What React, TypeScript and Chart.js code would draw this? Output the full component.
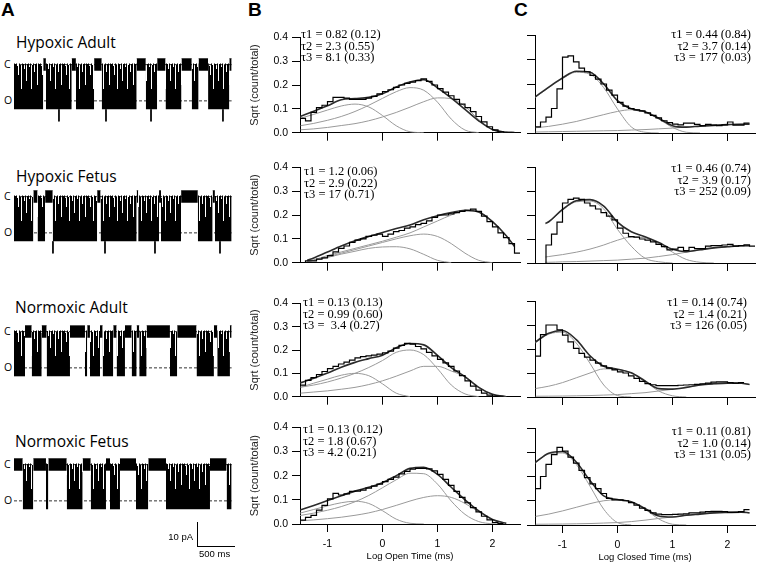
import React, { useEffect, useRef } from 'react';
import { Chart, registerables } from 'chart.js';
Chart.register(...registerables);

// ---------------- histogram data (log10 time, ms) ----------------
const BIN_CENTERS = [-1.45, -1.35, -1.25, -1.15, -1.05, -0.95, -0.85, -0.75, -0.65, -0.55, -0.45, -0.35, -0.25, -0.15, -0.05, 0.05, 0.15, 0.25, 0.35, 0.45, 0.55, 0.65, 0.75, 0.85, 0.95, 1.05, 1.15, 1.25, 1.35, 1.45, 1.55, 1.65, 1.75, 1.85, 1.95, 2.05, 2.15, 2.25, 2.35, 2.45];
const BIN_WIDTH = 0.1;
const FIT_X = [-1.5, -1.25, -1, -0.75, -0.5, -0.25, 0, 0.25, 0.5, 0.75, 1, 1.25, 1.5, 1.75, 2, 2.25, 2.4];
const FIT_X_B2 = [-1.37, -1.25, -1, -0.75, -0.5, -0.25, 0, 0.25, 0.5, 0.75, 1, 1.25, 1.5, 1.75, 2, 2.25, 2.4];
const FIT_X_C2 = [-1.31, -1.25, -1, -0.75, -0.5, -0.25, 0, 0.25, 0.5, 0.75, 1, 1.25, 1.5, 1.75, 2, 2.25, 2.4];
const X_TICKS = [-1, 0, 1, 2];
const Y_TICKS = [0, 0.1, 0.2, 0.3, 0.4];
const N = null;

// Hypoxic Adult
const B1_HIST = [.06, .05, .085, .105, .115, .13, .148, .148, .145, .14, .14, .14, .145, .152, .163, .172, .18, .19, .2, .207, .212, .218, .226, .215, .2, .185, .17, .155, .14, .12, .105, .088, .068, .045, .025, .012, .004, .001, .001, N];
const B1_C1 = [.06, .077, .095, .112, .12, .108, .072, .029, .004, 0, N, N, N, N, N, N, N];
const B1_C2 = [.029, .039, .052, .068, .089, .115, .144, .172, .189, .178, .128, .057, .011, 0, N, N, N];
const B1_C3 = [.012, .016, .022, .03, .038, .05, .066, .085, .107, .13, .146, .143, .11, .055, .013, 0, N];
const B1_FIT = [.068, .09, .113, .138, .143, .148, .163, .192, .213, .222, .188, .145, .098, .05, .013, .002, 0];
const C1_HIST = [.025, .045, .065, .1, .18, .31, .315, .29, .265, .25, .235, .22, .2, .175, .155, .125, .11, .1, .095, .09, .082, .072, .062, .05, .042, .036, .033, .04, .04, .035, .03, .035, .032, .03, .033, .045, .032, .032, .04, N];
const C1_C1 = [.145, .185, .222, .248, .24, .185, .098, .025, .003, 0, N, N, N, N, N, N, N];
const C1_C2 = [.021, .027, .036, .047, .061, .075, .088, .095, .086, .057, .023, .003, 0, N, N, N, N];
const C1_C3 = [.004, .005, .006, .007, .008, .009, .01, .012, .014, .017, .02, .024, .028, .031, .034, .036, .036];
const C1_FIT = [.147, .187, .225, .252, .248, .2, .132, .099, .087, .06, .03, .024, .028, .031, .034, .036, .036];

// Hypoxic Fetus
const B2_HIST = [N, .008, .008, .015, .02, .03, .045, .06, .07, .085, .095, .1, .11, .115, .12, .11, .12, .13, .135, .145, .15, .16, .165, .175, .19, .2, .2, .205, .21, .215, .22, .225, .215, .195, .172, .15, .125, .105, .08, .04];
const B2_C1 = [.005, .01, .022, .036, .048, .06, .066, .067, .058, .035, .01, 0, N, N, N, N, N];
const B2_C2 = [.005, .01, .025, .04, .055, .07, .085, .1, .113, .12, .11, .08, .04, .01, 0, N, N];
const B2_C3 = [.006, .012, .03, .045, .06, .075, .09, .107, .125, .15, .175, .2, .217, .212, .172, .113, .068];
const B2_FIT = [.01, .02, .045, .07, .092, .11, .127, .143, .158, .18, .197, .21, .22, .213, .172, .113, .068];
const C2_HIST = [N, N, .075, .12, .17, .25, .265, .27, .265, .25, .238, .225, .21, .195, .18, .145, .124, .11, .108, .1, .095, .088, .078, .068, .055, .058, .065, .052, .065, .06, .06, .07, .072, .072, .075, .078, .07, .072, .076, .07];
const C2_C1 = [.163, .17, .22, .255, .258, .225, .14, .07, .02, .005, 0, N, N, N, N, N, N];
const C2_C2 = [.025, .027, .035, .045, .058, .075, .095, .108, .105, .08, .045, .015, .003, 0, N, N, N];
const C2_C3 = [.003, .003, .005, .006, .008, .01, .012, .016, .02, .027, .035, .045, .055, .063, .068, .072, .072];
const C2_FIT = [.165, .172, .223, .259, .264, .237, .17, .13, .109, .085, .057, .047, .055, .063, .068, .072, .072];

// Normoxic Adult
const B3_HIST = [.05, .07, .082, .095, .108, .12, .13, .14, .148, .157, .166, .172, .175, .178, .182, .188, .195, .208, .22, .228, .225, .215, .205, .19, .175, .16, .145, .13, .11, .09, .068, .045, .028, .015, .007, .003, .002, N, N, N];
const B3_C1 = [.04, .058, .075, .092, .1, .09, .055, .015, 0, N, N, N, N, N, N, N, N];
const B3_C2 = [.04, .05, .063, .08, .1, .125, .155, .19, .2, .18, .12, .05, .012, 0, N, N, N];
const B3_C3 = [.015, .02, .025, .032, .04, .052, .068, .088, .11, .13, .13, .11, .085, .04, .01, 0, N];
const B3_FIT = [.059, .079, .101, .126, .147, .163, .178, .21, .228, .222, .177, .125, .086, .04, .01, 0, N];
const C3_HIST = [.17, .26, .3, .3, .28, .258, .23, .203, .182, .166, .154, .141, .13, .12, .113, .105, .1, .088, .078, .065, .056, .051, .047, .047, .047, .047, .049, .05, .051, .053, .055, .058, .062, .063, .063, .06, .058, .06, N, N];
const C3_C1 = [.225, .262, .27, .225, .14, .05, .006, 0, N, N, N, N, N, N, N, N, N];
const C3_C2 = [.035, .045, .06, .08, .1, .117, .115, .1, .065, .025, .005, 0, N, N, N, N, N];
const C3_C3 = [.003, .0035, .004, .005, .006, .008, .01, .014, .018, .025, .032, .04, .05, .055, .058, .057, .052];
const C3_FIT = [.228, .266, .277, .239, .172, .128, .116, .101, .067, .035, .033, .04, .05, .055, .058, .057, .052];

// Normoxic Fetus
const B4_HIST = [.016, .027, .036, .057, .077, .104, .127, .12, .125, .135, .136, .14, .148, .157, .165, .175, .185, .194, .207, .218, .227, .23, .23, .228, .22, .205, .185, .16, .135, .11, .088, .068, .05, .032, .017, .006, .002, N, N, N];
const B4_C1 = [.045, .06, .075, .088, .094, .085, .055, .02, .003, 0, N, N, N, N, N, N, N];
const B4_C2 = [.035, .045, .057, .072, .092, .118, .15, .183, .21, .208, .165, .095, .04, .01, 0, N, N];
const B4_C3 = [.013, .017, .022, .028, .036, .046, .06, .077, .095, .11, .117, .11, .085, .05, .018, .003, N];
const B4_FIT = [.058, .077, .097, .117, .136, .152, .171, .2, .23, .235, .205, .152, .1, .054, .019, .003, N];
const C4_HIST = [.15, .2, .25, .29, .32, .305, .28, .255, .225, .195, .17, .15, .13, .11, .104, .104, .1, .092, .082, .07, .06, .05, .045, .043, .043, .044, .045, .046, .05, .05, .053, .055, .056, .056, .055, .052, .052, .055, .063, N];
const C4_C1 = [.255, .293, .297, .25, .16, .065, .01, 0, N, N, N, N, N, N, N, N, N];
const C4_C2 = [.035, .045, .058, .073, .088, .1, .104, .095, .065, .025, .003, 0, N, N, N, N, N];
const C4_C3 = [.003, .0035, .004, .005, .006, .008, .01, .014, .02, .027, .033, .04, .045, .05, .052, .053, .05];
const C4_FIT = [.257, .296, .303, .26, .183, .12, .105, .096, .068, .037, .033, .04, .045, .05, .052, .053, .05];

// fit parameters text
const B1_TAU = ['τ1 = 0.82 (0.12)', 'τ2 = 2.3 (0.55)', 'τ3 = 8.1 (0.33)'];
const C1_TAU = ['τ1 = 0.44 (0.84)', 'τ2 = 3.7 (0.14)', 'τ3 = 177 (0.03)'];
const B2_TAU = ['τ1 = 1.2 (0.06)', 'τ2 = 2.9 (0.22)', 'τ3 = 17 (0.71)'];
const C2_TAU = ['τ1 = 0.46 (0.74)', 'τ2 = 3.9 (0.17)', 'τ3 = 252 (0.09)'];
const B3_TAU = ['τ1 = 0.13 (0.13)', 'τ2 = 0.99 (0.60)', 'τ3 =  3.4 (0.27)'];
const C3_TAU = ['τ1 = 0.14 (0.74)', 'τ2 = 1.4 (0.21)', 'τ3 = 126 (0.05)'];
const B4_TAU = ['τ1 = 0.13 (0.12)', 'τ2 = 1.8 (0.67)', 'τ3 = 4.2 (0.21)'];
const C4_TAU = ['τ1 = 0.11 (0.81)', 'τ2 = 1.0 (0.14)', 'τ3 = 131 (0.05)'];

// ---------------- single-channel traces (ms, pA) ----------------
const TRACE_SPAN = 2870;
const LEVEL_C = 0;
const LEVEL_O = -15;
const HA_BURSTS = [[0, 385], [420, 760], [815, 1055], [1155, 1615], [1735, 1885], [1995, 2205], [2340, 2430], [2555, 2835]];
const HA_SPIKES = [592, 1211, 1804, 2751];
const HF_BURSTS = [[0, 255], [310, 410], [510, 1095], [1140, 1615], [1635, 1910], [1935, 2200], [2420, 2615], [2645, 2865]];
const HF_SPIKES = [513, 1198, 1856, 2712];
const NA_BURSTS = [[0, 145], [233, 365], [430, 737], [934, 964], [1000, 1132], [1167, 1307], [1351, 1461], [1549, 1615], [1649, 1746], [2053, 2149], [2403, 2632], [2676, 2843]];
const NA_SPIKES: number[] = [];
const NF_BURSTS = [[115, 254], [421, 452], [694, 904], [1010, 1211], [1264, 1395], [1606, 1768], [2001, 2580], [2799, 2865]];
const NF_SPIKES: number[] = [];
const TRACE_END = 2865;

// ---------------- styling ----------------
const SANS = '"Liberation Sans", Arial, sans-serif';
const SERIF = '"Liberation Serif", "Times New Roman", serif';
const TITLE_SANS = '"Open Sans", "Noto Sans", sans-serif';
const CLOSED_NOISE = 2.5;
const BURST_CEIL = 0.5;
const BURST_FLOOR = -18.5;
const SPIKE_FLOOR = -23.5;
const TRACE_Y_MIN = -25;
const TRACE_Y_MAX = 4;
const TRACE_H = 70;
// stripe texture of the fast flickering inside bursts (top pixel of each 1-px column)
const FLICKER_TOPS = [8, 9, 8, 11, 20, 8, 10, 40, 8, 9, 14, 8, 26, 9, 8, 12, 8, 40, 10, 8, 17, 9, 8, 30];
const FLICKER_SOLID = 34;

function histConfig(p: any) {
  const histPts: any[] = [];
  let last: any = null;
  BIN_CENTERS.forEach((c, i) => {
    const v = p.hist[i];
    if (v == null) return;
    const edge = c - BIN_WIDTH / 2;
    if (!last) histPts.push({ x: edge, y: 0 });
    histPts.push({ x: edge, y: v });
    last = { c, v };
  });
  if (last) histPts.push({ x: last.c + BIN_WIDTH / 2, y: last.v });
  const fitPts = (arr: any[]) => p.fitX.map((x: number, i: number) => ({ x, y: arr[i] })).filter((q: any) => q.y != null);
  const fitDs = (arr: any[], color: string, w: number, order: number) => ({
    data: fitPts(arr), borderColor: color, borderWidth: w, pointRadius: 0, fill: false,
    cubicInterpolationMode: 'monotone', order,
  });
  const axisCommon = {
    border: { display: true, color: '#000', width: 1 },
    grid: { display: true, drawOnChartArea: false, drawTicks: true, tickLength: 8, color: '#000', lineWidth: 1 },
  };
  return {
    type: 'line',
    data: {
      datasets: [
        { data: histPts, stepped: true, borderColor: '#000', borderWidth: 1.2, pointRadius: 0, fill: false, order: 0 },
        fitDs(p.total, '#2b2b2b', 1.6, 1),
        fitDs(p.c1, '#9a9a9a', 1, 2),
        fitDs(p.c2, '#9a9a9a', 1, 3),
        fitDs(p.c3, '#9a9a9a', 1, 4),
      ],
    },
    options: {
      responsive: false, animation: false, events: [],
      layout: { padding: { top: 8, right: p.padRight, bottom: 0, left: 0 } },
      plugins: { legend: { display: false }, tooltip: { enabled: false } },
      scales: {
        x: {
          type: 'linear', min: -1.5, max: 2.5, ...axisCommon,
          afterBuildTicks: (s: any) => { s.ticks = X_TICKS.map((v) => ({ value: v })); },
          afterFit: (s: any) => { s.height = p.xAxisHeight; },
          ticks: { display: !!p.xTitle, color: '#000', padding: 6, maxRotation: 0, autoSkip: false, font: { family: SANS, size: 10.5 }, callback: (v: any) => String(v) },
          title: { display: !!p.xTitle, text: p.xTitle || '', color: '#000', font: { family: SANS, size: 9.5 }, padding: { top: 0, bottom: 0 } },
        },
        y: {
          type: 'linear', min: 0, max: 0.4, ...axisCommon,
          afterBuildTicks: (s: any) => { s.ticks = Y_TICKS.map((v) => ({ value: v })); },
          afterFit: (s: any) => { s.width = p.yAxisWidth; },
          ticks: { display: p.showY, color: '#000', padding: 4, font: { family: SANS, size: 10.5 }, callback: (v: any) => Number(v).toFixed(1) },
          title: { display: p.showY, text: 'Sqrt (count/total)', color: '#222', font: { family: SANS, size: 11 }, padding: { top: 8, bottom: 0 } },
        },
      },
    },
  };
}

function makeFlickerPattern(ctx: CanvasRenderingContext2D) {
  const tile = document.createElement('canvas');
  tile.width = FLICKER_TOPS.length;
  tile.height = TRACE_H;
  const g = tile.getContext('2d')!;
  g.fillStyle = '#000';
  FLICKER_TOPS.forEach((top, i) => g.fillRect(i, top, 1, TRACE_H - top));
  g.fillRect(0, FLICKER_SOLID, tile.width, TRACE_H - FLICKER_SOLID);
  return ctx.createPattern(tile, 'repeat');
}

function traceConfig(t: any, ctx: CanvasRenderingContext2D) {
  const closed: any[] = [];
  const burst: any[] = [];
  let prev = 0;
  t.bursts.forEach(([s, e]: number[]) => {
    if (s > prev) closed.push({ x: prev, y: LEVEL_C + CLOSED_NOISE }, { x: s, y: LEVEL_C + CLOSED_NOISE }, { x: s, y: null });
    burst.push({ x: s, y: LEVEL_C + BURST_CEIL }, { x: e, y: LEVEL_C + BURST_CEIL }, { x: e, y: null });
    prev = e;
  });
  if (prev < TRACE_END) closed.push({ x: prev, y: LEVEL_C + CLOSED_NOISE }, { x: TRACE_END, y: LEVEL_C + CLOSED_NOISE });
  const spikes: any[] = [];
  t.spikes.forEach((s: number) => spikes.push({ x: s, y: BURST_FLOOR }, { x: s, y: SPIKE_FLOOR }, { x: s, y: null }));
  const level = (y: number) => ({
    data: [{ x: 0, y }, { x: TRACE_END, y }], borderColor: '#333', borderDash: [3, 2], borderWidth: 1,
    pointRadius: 0, fill: false, order: 9,
  });
  return {
    type: 'line',
    data: {
      datasets: [
        { data: closed, fill: { value: LEVEL_C - CLOSED_NOISE }, backgroundColor: '#000', borderColor: '#000', borderWidth: 0.5, pointRadius: 0, spanGaps: false, order: 2 },
        { data: burst, fill: { value: BURST_FLOOR }, backgroundColor: makeFlickerPattern(ctx), borderColor: 'rgba(0,0,0,0)', borderWidth: 0, pointRadius: 0, spanGaps: false, order: 1 },
        { data: spikes, borderColor: '#000', borderWidth: 1, pointRadius: 0, fill: false, spanGaps: false, order: 0 },
        level(LEVEL_C),
        level(LEVEL_O),
      ],
    },
    options: {
      responsive: false, animation: false, events: [],
      layout: { padding: 0 },
      plugins: { legend: { display: false }, tooltip: { enabled: false } },
      scales: {
        x: { type: 'linear', min: 0, max: TRACE_SPAN, display: false },
        y: { type: 'linear', min: TRACE_Y_MIN, max: TRACE_Y_MAX, display: false },
      },
    },
  };
}

function ChartBox({ left, top, width, height, make }: any) {
  const ref = useRef<HTMLCanvasElement>(null);
  useEffect(() => {
    const canvas = ref.current!;
    const chart = new Chart(canvas, make(canvas.getContext('2d')) as any);
    return () => chart.destroy();
  }, []);
  return <canvas ref={ref} width={width} height={height} style={{ position: 'absolute', left, top, width, height }} />;
}

// panel geometry (chart area top/bottom in page pixels)
const ROWS_B = [[35, 133], [165, 263], [301, 397], [425, 524]];
const ROWS_C = [[35, 133], [167, 263], [301, 397], [428, 525]];

const B_DATA = [
  { hist: B1_HIST, fitX: FIT_X, c1: B1_C1, c2: B1_C2, c3: B1_C3, total: B1_FIT, tau: B1_TAU },
  { hist: B2_HIST, fitX: FIT_X_B2, c1: B2_C1, c2: B2_C2, c3: B2_C3, total: B2_FIT, tau: B2_TAU },
  { hist: B3_HIST, fitX: FIT_X, c1: B3_C1, c2: B3_C2, c3: B3_C3, total: B3_FIT, tau: B3_TAU },
  { hist: B4_HIST, fitX: FIT_X, c1: B4_C1, c2: B4_C2, c3: B4_C3, total: B4_FIT, tau: B4_TAU },
];
const C_DATA = [
  { hist: C1_HIST, fitX: FIT_X, c1: C1_C1, c2: C1_C2, c3: C1_C3, total: C1_FIT, tau: C1_TAU },
  { hist: C2_HIST, fitX: FIT_X_C2, c1: C2_C1, c2: C2_C2, c3: C2_C3, total: C2_FIT, tau: C2_TAU },
  { hist: C3_HIST, fitX: FIT_X, c1: C3_C1, c2: C3_C2, c3: C3_C3, total: C3_FIT, tau: C3_TAU },
  { hist: C4_HIST, fitX: FIT_X, c1: C4_C1, c2: C4_C2, c3: C4_C3, total: C4_FIT, tau: C4_TAU },
];
const TAU_TOP_B = [29, 166, 297, 424];
const TAU_LEFT_B = [301, 304, 303, 303];
const TAU_TOP_C = [29, 163, 297, 426];
const TAU_RIGHT_C = [751, 751, 747, 751];

const TRACES = [
  { name: 'Hypoxic Adult', bursts: HA_BURSTS, spikes: HA_SPIKES, c: 65, titleTop: 34, titleLeft: 16 },
  { name: 'Hypoxic Fetus', bursts: HF_BURSTS, spikes: HF_SPIKES, c: 197, titleTop: 168, titleLeft: 16 },
  { name: 'Normoxic Adult', bursts: NA_BURSTS, spikes: NA_SPIKES, c: 332, titleTop: 299, titleLeft: 15 },
  { name: 'Normoxic Fetus', bursts: NF_BURSTS, spikes: NF_SPIKES, c: 465, titleTop: 433, titleLeft: 15 },
];

const abs = (left: number, top: number, extra: any = {}) => ({ position: 'absolute' as const, left, top, margin: 0, whiteSpace: 'pre' as const, ...extra });

export default function App() {
  const pxPerPA = TRACE_H / (TRACE_Y_MAX - TRACE_Y_MIN);
  return (
    <div style={{ position: 'fixed', left: 0, top: 0, width: 760, height: 567, background: '#fff', overflow: 'hidden', color: '#000' }}>
      {/* panel letters */}
      <div style={abs(1, 0, { fontFamily: SANS, fontWeight: 700, fontSize: 19, lineHeight: '19px' })}>A</div>
      <div style={abs(248, 0, { fontFamily: SANS, fontWeight: 700, fontSize: 19, lineHeight: '19px' })}>B</div>
      <div style={abs(514, 0, { fontFamily: SANS, fontWeight: 700, fontSize: 19, lineHeight: '19px' })}>C</div>

      {/* traces */}
      {TRACES.map((t, i) => {
        const top = Math.round(t.c - (TRACE_Y_MAX - LEVEL_C) * pxPerPA);
        const oY = t.c + (LEVEL_C - LEVEL_O) * pxPerPA;
        return (
          <React.Fragment key={'t' + i}>
            <div style={abs(t.titleLeft, t.titleTop, { fontFamily: TITLE_SANS, fontSize: 15.5, lineHeight: '16px' })}>{t.name}</div>
            <div style={abs(4, t.c - 6, { fontFamily: TITLE_SANS, fontSize: 10.5, lineHeight: '11px' })}>C</div>
            <div style={abs(4, oY - 6, { fontFamily: TITLE_SANS, fontSize: 10.5, lineHeight: '11px' })}>O</div>
            <ChartBox left={14} top={top} width={218} height={TRACE_H} make={(ctx: any) => traceConfig(t, ctx)} />
          </React.Fragment>
        );
      })}

      {/* scale bar */}
      <div style={abs(197, 522, { width: 1, height: 25, background: '#000' })} />
      <div style={abs(197, 546, { width: 38, height: 1, background: '#000' })} />
      <div style={abs(150, 531, { width: 43, textAlign: 'right', fontFamily: SANS, fontSize: 9.5, lineHeight: '12px' })}>10 pA</div>
      <div style={abs(199, 548, { fontFamily: SANS, fontSize: 9.5, lineHeight: '12px' })}>500 ms</div>

      {/* open-time histograms */}
      {B_DATA.map((d, i) => {
        const [t0, b0] = ROWS_B[i];
        const last = i === 3;
        const xh = last ? 38 : 10;
        const p = { ...d, showY: true, xTitle: last ? 'Log Open Time (ms)' : null, yAxisWidth: 60, xAxisHeight: xh, padRight: 2 };
        return (
          <React.Fragment key={'b' + i}>
            <ChartBox left={240} top={t0 - 8} width={282} height={b0 - t0 + 8 + xh} make={() => histConfig(p)} />
            <div style={abs(TAU_LEFT_B[i], TAU_TOP_B[i], { fontFamily: SERIF, fontSize: 12.5, lineHeight: '11.7px' })}>
              {d.tau.map((s, k) => <div key={k}>{s}</div>)}
            </div>
          </React.Fragment>
        );
      })}

      {/* closed-time histograms */}
      {C_DATA.map((d, i) => {
        const [t0, b0] = ROWS_C[i];
        const last = i === 3;
        const xh = last ? 38 : 10;
        const p = { ...d, showY: false, xTitle: last ? 'Log Closed Time (ms)' : null, yAxisWidth: 10, xAxisHeight: xh, padRight: 3 };
        return (
          <React.Fragment key={'c' + i}>
            <ChartBox left={525} top={t0 - 8} width={233} height={b0 - t0 + 8 + xh} make={() => histConfig(p)} />
            <div style={abs(TAU_RIGHT_C[i] - 120, TAU_TOP_C[i], { width: 120, textAlign: 'right', fontFamily: SERIF, fontSize: 12.5, lineHeight: '11.7px' })}>
              {d.tau.map((s, k) => <div key={k}>{s}</div>)}
            </div>
          </React.Fragment>
        );
      })}
    </div>
  );
}
